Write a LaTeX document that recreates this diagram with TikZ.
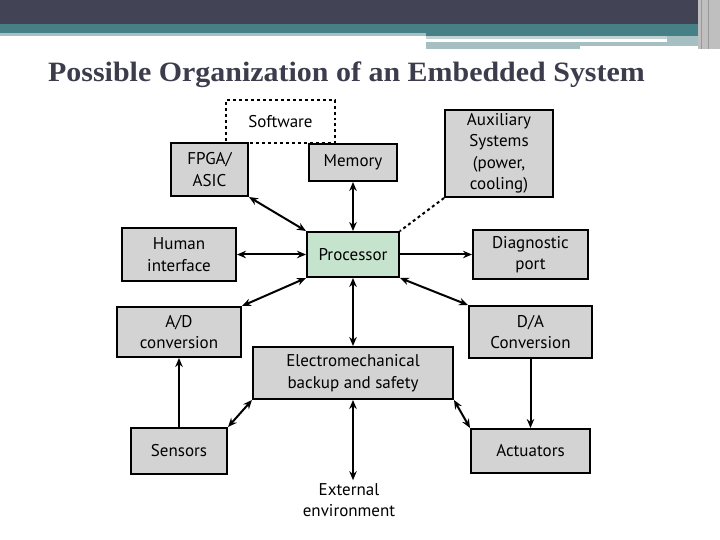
\documentclass[tikz,border=0pt]{standalone}
\usepackage{fontspec}
\setmainfont{Liberation Serif}
\newfontfamily\diagfont{PT Sans}
\usetikzlibrary{arrows.meta}

\definecolor{bandDark}{HTML}{424456}
\definecolor{bandTeal}{HTML}{477F87}
\definecolor{bandLight}{HTML}{A6BFC3}
\definecolor{titleGray}{HTML}{3C3C4C}
\definecolor{boxGray}{HTML}{D3D3D3}
\definecolor{procGreen}{HTML}{C6E4CD}

\begin{document}
\begin{tikzpicture}[x=1bp, y=-1bp,
		box/.style={draw, line width=2bp, fill=boxGray, inner sep=0pt, align=center,
			font=\diagfont\fontsize{17bp}{21.5bp}\selectfont},
		link/.style={line width=2bp},
		>={Stealth[length=9bp, width=7.5bp]}]
			\useasboundingbox (0,0) rectangle (720,540);

			% banner at the top
			\fill [bandDark] (0,0) rectangle (720,24);
			\fill [bandTeal] (0,24) rectangle (720,33);
			\fill [bandTeal] (426,33) rectangle (707,36);
			\fill [bandLight] (0,33) rectangle (426,36);
			\fill [bandLight!70] (426,36) rectangle (707,39);
			\fill [bandLight] (426,42) rectangle (580,49);
			\fill [bandLight] (580,42) rectangle (707,46);
			\fill [bandLight] (667,36) rectangle (707,46);
			\fill [gray!50] (698,0) rectangle (720,49);
			\draw [gray!80, line width=1bp] (701,0) -- (701,49);
			\draw [gray!80, line width=1bp] (708,0) -- (708,49);

			% title
			\node [anchor=base, text=titleGray, font=\bfseries\fontsize{28bp}{32bp}\selectfont] (title) at (346.5,82) {\scalebox{1.07}[1]{Possible Organization of an Embedded System}};

			% the blocks
			\node [box, fill=procGreen, minimum width=92bp, minimum height=45bp] (proc) at (353,254.5) {Processor};
			\node [box, minimum width=77bp, minimum height=53bp] (fpga) at (209.5,169.5) {FPGA/\\ASIC};
			\node [box, minimum width=88bp, minimum height=37bp] (mem) at (353,162.5) {Memory};
			\node [box, minimum width=108bp, minimum height=87bp] (aux) at (499,153.5) {Auxiliary\\Systems\\(power,\\cooling)};
			\node [box, minimum width=114bp, minimum height=53bp] (human) at (179,254.5) {Human\\interface};
			\node [box, minimum width=115bp, minimum height=49bp] (diag) at (530.5,254.5) {Diagnostic\\port};
			\node [box, minimum width=124bp, minimum height=50bp] (ad) at (179,332) {A/D\\conversion};
			\node [box, minimum width=200bp, minimum height=52bp] (em) at (353,373) {Electromechanical\\backup and safety};
			\node [box, minimum width=123bp, minimum height=52bp] (da) at (530.5,332) {D/A\\Conversion};
			\node [box, minimum width=96bp, minimum height=46bp] (sensors) at (179,451) {Sensors};
			\node [box, minimum width=119bp, minimum height=44bp] (act) at (530.5,451) {Actuators};
			\node [box, draw=none, fill=none, inner sep=2bp] (ext) at (349,500) {External\\environment};

			% software, dashed
			\node [box, fill=none, dashed, minimum width=109bp, minimum height=43bp] (soft) at (280.5,121.5) {Software};

			% connections
			\draw [link, <->] (fpga.south east) -- (proc.north west);
			\draw [link, <->] (mem.south) -- (proc.north);
			\draw [link, dashed] (aux.south west) -- (proc.north east);
			\draw [link, <->] (human.east) -- (proc.west);
			\draw [link, ->] (proc.east) -- (diag.west);
			\draw [link, <->] (ad.north east) -- (proc.south west);
			\draw [link, <->] (proc.south) -- (em.north);
			\draw [link, <->] (proc.south east) -- (da.north west);
			\draw [link, ->] (sensors.north) -- (ad.south);
			\draw [link, ->] (da.south) -- (act.north);
			\draw [link, <->] (sensors.north east) -- (em.south west);
			\draw [link, <->] (em.south east) -- (act.north west);
			\draw [link, <->] (em.south) -- (em.south |- ext.north);
		\end{tikzpicture}
\end{document}
